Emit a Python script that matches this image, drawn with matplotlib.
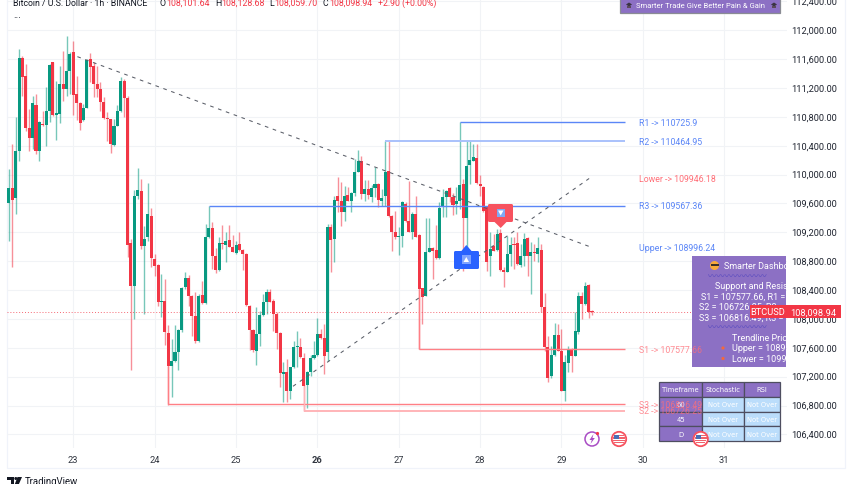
import matplotlib

matplotlib.use("Agg")
import matplotlib.pyplot as plt
import numpy as np
from matplotlib.patches import Circle, FancyBboxPatch, Polygon, Rectangle
from matplotlib.transforms import Affine2D

W, H = 852, 485
GREEN = "#089981"
RED = "#F23645"
BLUE_LINE = "#5B86F7"
RED_LINE = "#FF7F85"
PURPLE = "#8C70C4"
INK = "#131722"

opens = [
    109602, 109810, 109671, 110323, 111621, 111362, 110641, 110512, 110969, 110327,
    110702, 110688, 110886, 111556, 110831, 110840, 111251, 111187, 111436, 111695,
    111122, 110988, 110762, 110928, 111602, 111505, 111256, 111187, 111002, 110785,
    110771, 110410, 110678, 110877, 111302, 111066, 109052, 108461, 109708, 109778,
    109015, 109140, 109431, 108835, 108752, 108239, 108253, 107800, 107343, 107412,
    107537, 107842, 108438, 108562, 108322, 108036, 107699, 108331, 108221, 109131,
    109255, 108867, 108678, 109047, 109029, 109094, 109001, 108914, 109038, 108955,
    108900, 108184, 107851, 107560, 107796, 108054, 108230, 108368, 108244, 108073,
    107805, 107236, 107260, 107006, 107329, 107606, 107615, 107458, 107084, 107269,
    107454, 107500, 107791, 107731, 107546, 109269, 109108, 109708, 109634, 109477,
    109717, 109634, 109745, 110041, 110189, 109731, 109801, 109694, 109810, 109870,
    109634, 109708, 110055, 109431, 109209, 109131, 109149, 109593, 109362, 109209,
    109454, 109163, 108424, 108322, 108932, 108983, 108955, 108844, 109546, 109694,
    109814, 109685, 109593, 109639, 109870, 109394, 110138, 110193, 110230, 109870,
    109833, 109560, 108877, 109015, 108960, 109191, 108678, 108655, 108900, 109038,
    109047, 108752, 108867, 109121, 108877, 108927, 108900, 108955, 108161, 107606,
    107213, 107500, 107777, 107560, 107006, 107389, 107583, 107491, 107814, 108313,
    108207, 108470, 108101.64,
]
highs = [
    110078, 110424, 110803, 111741, 111649, 111533, 110909, 111085, 111117, 110748,
    110886, 111210, 111533, 111565, 111302, 111510, 111718, 111917, 111704, 111857,
    111371, 111002, 110979, 111602, 111686, 111556, 111510, 111279, 111080, 110863,
    110771, 110771, 110965, 111348, 111325, 111085, 109108, 109787, 110087, 109939,
    109292, 109884, 109533, 108900, 108761, 108623, 108553, 107916, 107722, 107920,
    107860, 108438, 108646, 108609, 108331, 108368, 108345, 108530, 109316, 109570,
    109339, 108978, 109131, 109302, 109200, 109302, 109163, 109085, 109200, 108969,
    108914, 108193, 107860, 108161, 108114, 108345, 108415, 108415, 108276, 108091,
    107814, 107398, 107444, 107338, 107698, 107828, 107731, 107523, 107278, 107500,
    107698, 108008, 107860, 107930, 109316, 109316, 109708, 109962, 109893, 109847,
    109824, 109754, 110216, 110341, 110263, 109925, 109925, 109856, 110110, 109879,
    109801, 110461, 110461, 109440, 109500, 109269, 109639, 109616, 109916, 109477,
    109699, 109177, 108433, 109394, 109394, 108992, 109302, 109616, 109801, 109791,
    109824, 109741, 109824, 110725, 109939, 110461, 110461, 110424, 110424, 109995,
    109847, 109570, 109200, 109177, 109246, 109246, 108715, 109154, 109131, 109140,
    109200, 109038, 109191, 109131, 109061, 109038, 109131, 109038, 108359, 107768,
    107629, 107939, 107930, 107860, 107500, 107629, 107592, 108091, 108368, 108378,
    108516, 108484, 108128.68,
]
lows = [
    109075, 108715, 109454, 110193, 111085, 110609, 110323, 110355, 110286, 110184,
    110678, 110401, 110725, 110817, 110480, 110715, 111025, 111094, 111117, 110826,
    110762, 110623, 110748, 110919, 111279, 111071, 111071, 110886, 110771, 110470,
    110300, 110401, 110669, 110863, 110794, 108854, 107297, 107999, 109662, 108969,
    108068, 109085, 108715, 108599, 108174, 108022, 107643, 106812, 106913, 107398,
    107297, 107814, 108415, 108184, 107759, 107666, 107675, 108207, 108207, 109121,
    108692, 108632, 108669, 108969, 108784, 108992, 108923, 108900, 108946, 108683,
    108184, 107574, 107537, 107361, 107629, 108045, 108068, 108230, 107837, 107583,
    107052, 106844, 106853, 106890, 107320, 107329, 107454, 106728, 106761, 107213,
    107444, 107491, 107722, 107237, 107421, 108655, 108784, 109477, 109292, 109362,
    109630, 109477, 109708, 110032, 109662, 109639, 109662, 109616, 109685, 109546,
    109560, 109570, 109408, 108946, 109108, 108891, 108992, 109348, 109200, 109108,
    109131, 107583, 107930, 108313, 108923, 108553, 108830, 108835, 109408, 109408,
    109616, 109440, 109454, 109523, 108669, 108969, 109870, 110184, 109870, 109708,
    109477, 108669, 108599, 108937, 108946, 108669, 108438, 108646, 108738, 108692,
    108752, 108715, 108738, 108599, 108345, 108807, 108784, 108091, 107560, 107130,
    107176, 107491, 107551, 107000, 106867, 107260, 107260, 107481, 107791, 107999,
    108193, 108008, 108059.70,
]
closes = [
    109810, 109653, 110323, 111621, 111358, 110641, 110512, 110988, 110327, 110734,
    110688, 110877, 111519, 110831, 110849, 111251, 111187, 111436, 111672, 111108,
    110988, 110711, 110919, 111593, 111496, 111251, 111187, 111002, 110785, 110771,
    110429, 110678, 110877, 111293, 111066, 109029, 108461, 109708, 109787, 109015,
    109108, 109454, 108844, 108738, 108230, 108248, 107814, 107352, 107412, 107537,
    107842, 108428, 108562, 108322, 108036, 107699, 108322, 108221, 109131, 109255,
    108867, 108678, 109047, 109034, 109085, 109001, 108932, 109029, 108955, 108900,
    108198, 107851, 107565, 107796, 108054, 108230, 108373, 108239, 108073, 107805,
    107250, 107260, 107006, 107329, 107615, 107615, 107468, 107075, 107269, 107454,
    107500, 107791, 107731, 107491, 109269, 109094, 109648, 109639, 109477, 109708,
    109639, 109745, 110041, 110193, 109731, 109801, 109722, 109810, 109870, 109648,
    109671, 110041, 109422, 109209, 109131, 109154, 109625, 109362, 109209, 109454,
    109140, 108415, 108299, 108932, 108978, 108946, 108844, 109537, 109694, 109768,
    109685, 109579, 109639, 109856, 109394, 110124, 110203, 110240, 109884, 109838,
    109491, 108784, 108969, 108946, 109177, 108683, 108646, 108900, 109029, 109029,
    108761, 108867, 109108, 108877, 108923, 108918, 108978, 108161, 107606, 107181,
    107500, 107777, 107560, 107006, 107398, 107583, 107491, 107837, 108313, 108207,
    108461, 108101, 108098.94,
]

price_ticks = [112400, 112000, 111600, 111200, 110800, 110400, 110000, 109600,
               109200, 108800, 108400, 108000, 107600, 107200, 106800, 106400]
day_ticks = [23, 24, 25, 26, 27, 28, 29, 30, 31]
last_price = 108098.94

# 水平位: 名称, 价位, 起始K线
res_names = ["R1", "R2", "R3"]
res_levels = [110725.9, 110464.95, 109567.36]
res_start = [133, 111, 59]
sup_names = ["S1", "S3", "S2"]
sup_levels = [107577.66, 106816.49, 106726.25]
sup_start = [121, 47, 87]
level_end_day = 29.78

trend_down_days = [23.05, 29.36]
trend_down_prices = [111635, 108996.24]
trend_up_days = [25.70, 29.34]
trend_up_prices = [107066, 109946.18]

table_head = ["Timeframe", "Stochastic", "RSI"]
table_rows = ["60", "45", "D"]
table_state = "Not Over"

plt.rcParams["font.family"] = ["DejaVu Sans"]
fig = plt.figure(figsize=(W / 100, H / 100), dpi=100, facecolor="white")
ax = fig.add_axes([7 / W, (H - 449) / H, 780 / W, 449 / H])
ax.set_xlim(22.185, 31.772)
ax.set_ylim(106211, 112434)

# 像素坐标，用来画面板和图标
px = Affine2D().scale(1 / W, -1 / H).translate(0, 1) + fig.transFigure


def add_px(patch, z=10):
    patch.set_transform(px)
    patch.set_clip_on(False)
    patch.set_zorder(z)
    ax.add_patch(patch)
    return patch


def text_px(x, y, s, z=12, **kw):
    kw.setdefault("va", "center")
    kw.setdefault("clip_on", False)
    return ax.text(x, y, s, transform=px, zorder=z, **kw)


for sp in ax.spines.values():
    sp.set_visible(False)
ax.set_axisbelow(True)
ax.grid(True, color="#F1F3F6", lw=0.8)
ax.yaxis.tick_right()
ax.set_yticks(price_ticks)
ax.set_yticklabels([f"{p:,.2f}" for p in price_ticks], family="Roboto", fontsize=6.7,
                   color="#1F2430", ha="right", va="center")
ax.tick_params(axis="y", length=0, pad=36)
ax.set_xticks(day_ticks)
ax.set_xticklabels([str(d) for d in day_ticks], family="Roboto", fontsize=6.7, color="#30353F")
ax.get_xticklabels()[3].set_fontweight("bold")
ax.tick_params(axis="x", length=0, pad=5)

# K线
opens_a, highs_a, lows_a, closes_a = map(np.array, (opens, highs, lows, closes))
idx = np.arange(len(opens_a))
days = 23 + (idx - 19) / 24
up = closes_a >= opens_a
colors = np.where(up, GREEN, RED)
ax.vlines(days, lows_a, highs_a, colors=colors, lw=1.0, alpha=0.55, zorder=3)
body_low = np.minimum(opens_a, closes_a)
body_h = np.maximum(np.abs(closes_a - opens_a), 14)
ax.bar(days, body_h, bottom=body_low, width=0.9 / 24, color=colors, lw=0, zorder=4)

ax.plot([22.185, 31.772], [last_price, last_price], color=RED, lw=0.7,
        ls=(0, (1, 2)), alpha=0.75, zorder=3.5)

# 阻力 / 支撑，R2 和 S2 颜色更淡
for name, lv, st in zip(res_names, res_levels, res_start):
    pale = name == "R2"
    ax.hlines(lv, 23 + (st - 19) / 24, level_end_day, color="#A9C1FB" if pale else BLUE_LINE,
              lw=1.4 if pale else 1.0, zorder=5)
for name, lv, st in zip(sup_names, sup_levels, sup_start):
    x0 = 23 + (st - 19) / 24
    pale = name == "S2"
    ax.hlines(lv, x0, level_end_day, color="#FFB4B8" if pale else RED_LINE,
              lw=1.4 if pale else 1.0, zorder=5)
    ax.vlines(x0, lv, closes[st], color="#FFB4B8" if pale else RED_LINE, lw=1.0, zorder=5)

ax.plot(trend_down_days, trend_down_prices, color="#5A5E68", lw=0.75, ls=(0, (3.5, 4.5)), zorder=5)
ax.plot(trend_up_days, trend_up_prices, color="#5A5E68", lw=0.75, ls=(0, (3.5, 4.5)), zorder=5)

# 信号标签
blue_tag = FancyBboxPatch((454, 252), 25, 18, boxstyle="round,pad=0,rounding_size=1.5",
                          fc="#2962FF", ec="none")
add_px(blue_tag, 8)
add_px(Polygon([(461, 252.5), (466.3, 246), (472, 252.5)], fc="#2962FF", ec="none"), 8)
add_px(Rectangle((462, 256), 8.5, 8.5, fc="#7FA3FF", ec="none"), 8.5)
add_px(Polygon([(463.5, 263), (466.3, 258), (469, 263)], fc="white", ec="none"), 8.6)
red_tag = FancyBboxPatch((488, 205), 25, 18, boxstyle="round,pad=0,rounding_size=1.5",
                         fc="#F7525F", ec="none")
add_px(red_tag, 8)
add_px(Polygon([(494, 222.5), (500.7, 229), (507, 222.5)], fc="#F7525F", ec="none"), 8)
add_px(Rectangle((496.5, 209.5), 8.5, 8.5, fc="#7FA9F5", ec="none"), 8.5)
add_px(Polygon([(498, 211.5), (503.5, 211.5), (500.7, 216.5)], fc="white", ec="none"), 8.6)

# 外框
add_px(Rectangle((7, -2), 838, 471, fc="none", ec="#F0F3FA", lw=0.9), 0.2)

# 顶部标题
HEAD = dict(family="Roboto", fontsize=6.35)
text_px(13, 3, "Bitcoin / U.S. Dollar · 1h · BINANCE", color=INK, **HEAD)
for x_l, letter, x_v, val in [(160, "O", 166, "108,101.64"), (215, "H", 221, "108,128.68"),
                              (269, "L", 274, "108,059.70"), (322.7, "C", 329, "108,098.94")]:
    text_px(x_l, 3, letter, color=INK, **HEAD)
    text_px(x_v, 3, val, color=RED, **HEAD)
text_px(377.7, 3, "+2.90 (+0.00%)", color=RED, **HEAD)
text_px(13, 15, "...", family="Roboto", fontsize=7, color=INK)

# 顶部横幅
add_px(Rectangle((620, -2), 160.3, 15.5, fc=PURPLE, ec="#8A8C94", lw=0.9))
text_px(700, 6, "Smarter Trade Give Better Pain & Gain", ha="center", family="Roboto",
        fontsize=5.5, color="white")
for xc in (629, 774):
    add_px(Polygon([(xc - 3, 5.5), (xc, 3.5), (xc + 3, 5.5), (xc, 7.5)], fc="#3A3442", ec="none"), 11)
    add_px(Rectangle((xc - 1.7, 6.5), 3.4, 2.2, fc="#5A4A5A", ec="none"), 11)

# Dashboard 面板
dash = add_px(Rectangle((692.3, 257), 93.7, 111, fc=PURPLE, ec="none"), 6)


def dash_text(x, y, s, **kw):
    t = text_px(x, y, s, z=7, clip_on=True, color="white", family="Roboto", fontsize=6.5, **kw)
    t.set_clip_path(dash)
    return t


dash_text(723.7, 266.5, "Smarter Dashboard")
dash_text(715, 287, "Support and Resistance")
dash_text(700.7, 297, "S1 = 107577.66, R1 = 110725.9")
dash_text(699, 307.5, "S2 = 106726.25, R2 = 110464.95")
dash_text(699, 318, "S3 = 106816.49, R3 = 109567.36")
dash_text(732, 339, "Trendline Price")
dash_text(732, 349, "Upper = 108996.24")
dash_text(732, 359.5, "Lower = 109946.18")
for yy in (277, 328):
    t = text_px(708, yy, "〰〰〰〰〰〰〰", z=7, clip_on=True, color="#5F4FC0",
                family=["Noto Sans CJK SC", "DejaVu Sans"], fontsize=6)
    t.set_clip_path(dash)
for yy in (349, 359.5):
    add_px(Circle((723, yy), 1.6, fc="#F5683C", ec="none"), 7)
add_px(Circle((714.5, 266.5), 4.5, fc="#F7A93B", ec="none"), 7)
add_px(Rectangle((710.5, 264.5), 8, 2.4, fc="#3A2E2A", ec="none"), 7.1)

# 表格
col_x = [659.3, 702.3, 743.7, 780.3]
row_y = [383, 397.7, 412.7, 427.3, 442.3]
for c in range(3):
    for r in range(4):
        fc = PURPLE if (r == 0 or c == 0) else "#BBDDFB"
        add_px(Rectangle((col_x[c], row_y[r]), col_x[c + 1] - col_x[c], row_y[r + 1] - row_y[r],
                         fc=fc, ec="#4E4E60", lw=0.9), 6)
for c, name in enumerate(table_head):
    text_px((col_x[c] + col_x[c + 1]) / 2, (row_y[0] + row_y[1]) / 2, name, z=7, ha="center",
            fontsize=4.9, color="white")
for r, name in enumerate(table_rows):
    text_px((col_x[0] + col_x[1]) / 2, (row_y[r + 1] + row_y[r + 2]) / 2, name, z=7, ha="center",
            fontsize=4.9, color="white")
    for c in (1, 2):
        text_px((col_x[c] + col_x[c + 1]) / 2, (row_y[r + 1] + row_y[r + 2]) / 2, table_state, z=7,
                ha="center", fontsize=4.9, color="white")

# 右侧文字标注，盖在面板之上
label_day = 29.95
LABEL = dict(family="Roboto", fontsize=6.3, va="center", clip_on=False, zorder=9)
for name, lv in zip(res_names, res_levels):
    ax.text(label_day, lv, f"{name} -> {lv}", color=BLUE_LINE, **LABEL)
for name, lv in zip(sup_names, sup_levels):
    ax.text(label_day, lv, f"{name} -> {lv}", color="#FF6F78", alpha=0.8, **LABEL)
ax.text(label_day, trend_down_prices[1], f"Upper -> {trend_down_prices[1]}", color=BLUE_LINE, **LABEL)
ax.text(label_day, trend_up_prices[1], f"Lower -> {trend_up_prices[1]}", color="#FF6F78", **LABEL)

# 现价标签
add_px(Rectangle((750, 306), 36, 13.3, fc=RED, ec="none"), 10)
add_px(Rectangle((786, 306), 55, 13.3, fc=RED, ec="none"), 10)
add_px(Rectangle((785.7, 306), 0.6, 13.3, fc="#FFB6BC", ec="none"), 10.1)
text_px(768, 312.8, "BTCUSD", ha="center", family="Roboto", fontsize=6.7, color="white")
text_px(813.5, 312.8, "108,098.94", ha="center", family="Roboto", fontsize=6.7, color="white")


def flag_icon(xc, yc):
    add_px(Circle((xc, yc), 7.2, fc="white", ec="#F7525F", lw=1.3), 11)
    for dy in (-3.2, -0.9, 1.4, 3.7):
        half = np.sqrt(max(5.9 ** 2 - dy ** 2, 0))
        add_px(Rectangle((xc - half, yc + dy - 0.65), 2 * half, 1.3, fc="#F0626C", ec="none"), 11.1)
    add_px(Rectangle((xc - 4.8, yc - 4.2), 5.2, 4, fc="#4A6FB5", ec="none"), 11.2)


add_px(Circle((592, 440), 7, fc="white", ec="#A94CC4", lw=1.1), 11)
add_px(Polygon([(593.5, 435), (589.5, 441), (591.8, 441), (590.5, 445), (594.8, 439),
                (592.4, 439)], fc="#A94CC4", ec="none"), 11.1)
add_px(Circle((597.5, 434.5), 1.6, fc="#F23645", ec="none"), 11.2)
flag_icon(619, 440)
flag_icon(700.7, 440)

# TradingView 标志
add_px(Polygon([(7, 478), (14, 478), (14, 486), (10.5, 486), (10.5, 481), (7, 481)], fc=INK, ec="none"), 11)
add_px(Circle((15.8, 479.5), 1.5, fc=INK, ec="none"), 11)
add_px(Polygon([(17.5, 478), (22, 478), (18.5, 486), (14.5, 486)], fc=INK, ec="none"), 11)
text_px(25, 482.5, "TradingView", family="Roboto", fontsize=6.9, color=INK)

fig.savefig("out.png", dpi=100, facecolor="white")
